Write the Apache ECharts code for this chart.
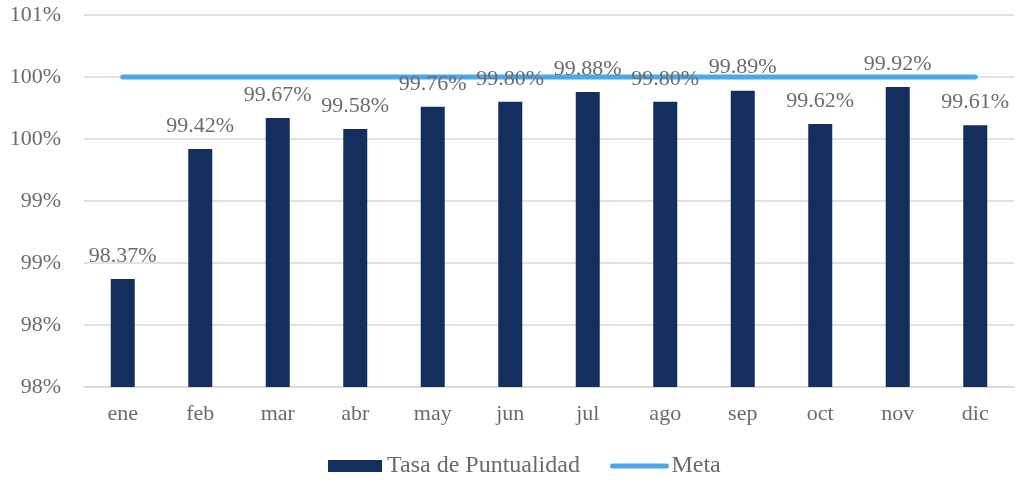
<!DOCTYPE html>
<html>
<head>
<meta charset="utf-8">
<script src="https://cdn.jsdelivr.net/npm/echarts@6/dist/echarts.min.js"></script>
<style>html,body{margin:0;padding:0;background:#fff}#c{width:1017px;height:483px}</style>
</head>
<body>
<div id="c"></div>
<script>
const categories = ['ene','feb','mar','abr','may','jun','jul','ago','sep','oct','nov','dic'];
const tasa = [98.37, 99.42, 99.67, 99.58, 99.76, 99.80, 99.88, 99.80, 99.89, 99.62, 99.92, 99.61];
const meta = [100, 100, 100, 100, 100, 100, 100, 100, 100, 100, 100, 100];

const font = '"Liberation Serif", "Times New Roman", serif';
const chart = echarts.init(document.getElementById('c'));
chart.setOption({
  animation: false,
  textStyle: { fontFamily: font },
  grid: { left: 84, right: 3, top: 15, bottom: 96, containLabel: false },
  legend: {
    bottom: 0,
    left: 323,
    itemGap: 30,
    itemWidth: 54,
    itemHeight: 12,
    textStyle: { fontFamily: font, fontSize: 24, color: '#6b6b6b' },
    data: [
      { name: 'Tasa de Puntualidad', icon: 'rect' },
      { name: 'Meta',
        itemStyle: { color: 'rgba(0,0,0,0)', borderWidth: 0 },
        lineStyle: { color: '#4aa8e8', width: 5, cap: 'round' } }
    ]
  },
  xAxis: {
    type: 'category',
    data: categories,
    axisLine: { show: true, lineStyle: { color: '#d9d9d9', width: 1.5 } },
    axisTick: { show: false },
    axisLabel: { fontFamily: font, fontSize: 22, color: '#6b6b6b', margin: 16 }
  },
  yAxis: {
    type: 'value',
    min: 97.5,
    max: 100.5,
    interval: 0.5,
    axisLine: { show: false },
    axisTick: { show: false },
    splitLine: { lineStyle: { color: '#d9d9d9', width: 1.5 } },
    axisLabel: {
      fontFamily: font, fontSize: 22, color: '#6b6b6b', margin: 23,
      formatter: v => Math.round(v) + '%'
    }
  },
  series: [
    {
      name: 'Tasa de Puntualidad',
      type: 'bar',
      data: tasa,
      barWidth: 24,
      itemStyle: { color: '#142f5e' },
      label: {
        show: true,
        position: 'top',
        distance: 12,
        fontFamily: font,
        fontSize: 22,
        color: '#6b6b6b',
        formatter: p => p.value.toFixed(2) + '%'
      }
    },
    {
      name: 'Meta',
      type: 'line',
      data: meta,
      symbol: 'none',
      lineStyle: { color: '#4aa8e8', width: 5, cap: 'round' },
      itemStyle: { color: '#4aa8e8' },
      z: 1
    }
  ]
});
</script>
</body>
</html>
